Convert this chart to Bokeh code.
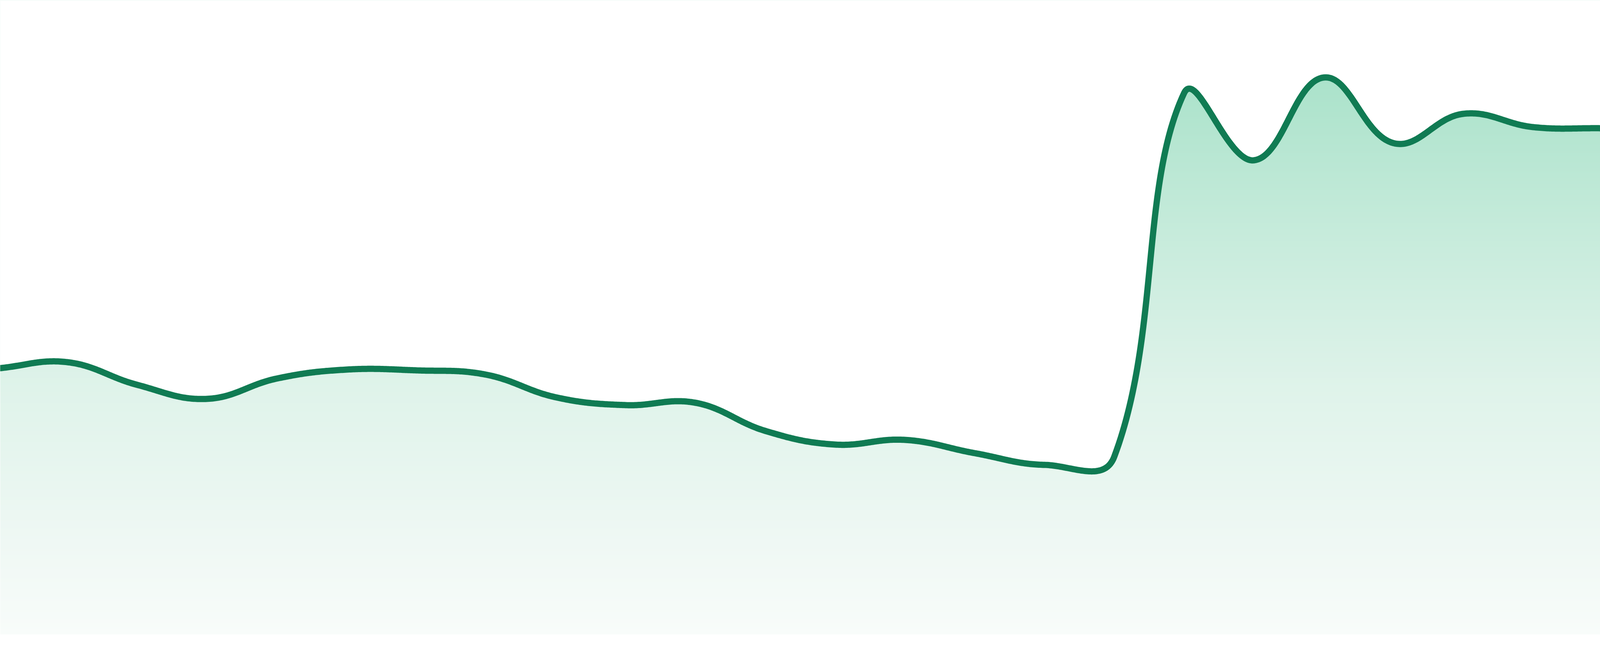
import numpy as np
from bokeh.plotting import figure
from bokeh.models import Range1d
from bokeh.embed import file_html
from bokeh.resources import INLINE

# ---------------- data ----------------
idx = list(range(24))
values = [68.1, 69.7, 63.9, 60.3, 65.5, 67.8, 67.6, 66.5, 60.7, 58.7, 59.3, 52.1,
          48.6, 49.8, 46.4, 43.4, 45.5, 138.6, 121.4, 142.6, 125.8, 133.3, 129.9, 129.6]

# ---------------- style / layout ----------------
W, H = 4000, 1664          # W is a fallback; the figure stretches to the window width
REF_W = 4784               # geometry used for the spline shape
X0, X1 = 0.0383, 22.962
Y0, Y1 = -4.0, 162.4
LINE_COLOR = "#107b53"
LINE_WIDTH = 16
TENSION = 0.4
grad_stops_v = [0.0, 23.2, 63.2, 103.2, 143.2, 162.4]
grad_stops_rgb = [(248, 252, 250), (239, 248, 244), (223, 243, 234),
                  (198, 235, 219), (170, 226, 202), (160, 223, 196)]

sx = REF_W / (X1 - X0)
sy = H / (Y1 - Y0)

# Chart.js-like spline (control points computed in pixel space)
P = np.column_stack([np.array(idx, float) * sx, np.array(values, float) * sy])
n = len(P)
cp_prev = np.zeros_like(P)
cp_next = np.zeros_like(P)
for i in range(n):
    prv = P[i - 1] if i > 0 else P[i]
    cur = P[i]
    nxt = P[i + 1] if i < n - 1 else P[i]
    d01 = np.hypot(*(cur - prv))
    d12 = np.hypot(*(nxt - cur))
    tot = d01 + d12
    s01 = d01 / tot if tot else 0.0
    s12 = d12 / tot if tot else 0.0
    fa, fb = TENSION * s01, TENSION * s12
    cp_prev[i] = cur - fa * (nxt - prv)
    cp_next[i] = cur + fb * (nxt - prv)

xs_px, ys_px = [], []
ts = np.linspace(0, 1, 60)
for i in range(n - 1):
    p0, p1, p2, p3 = P[i], cp_next[i], cp_prev[i + 1], P[i + 1]
    tt = ts if i == 0 else ts[1:]
    b = ((1 - tt) ** 3)[:, None] * p0 + (3 * (1 - tt) ** 2 * tt)[:, None] * p1 \
        + (3 * (1 - tt) * tt ** 2)[:, None] * p2 + (tt ** 3)[:, None] * p3
    xs_px.append(b[:, 0])
    ys_px.append(b[:, 1])
xs = np.concatenate(xs_px) / sx
ys = np.concatenate(ys_px) / sy

p = figure(width=W, height=H, sizing_mode="stretch_width",
           x_range=Range1d(X0, X1), y_range=Range1d(Y0, Y1),
           output_backend="svg", toolbar_location=None, min_border=0,
           x_axis_type=None, y_axis_type=None)
p.grid.visible = False
p.outline_line_color = None
p.background_fill_color = "white"
p.border_fill_color = "white"

# vertical gradient under the curve
N = 1624
vc = (np.arange(N) + 0.5) * (Y1 / N)
img = np.empty((N, 2), dtype=np.uint32)
view = img.view(dtype=np.uint8).reshape((N, 2, 4))
for ch in range(3):
    col = np.interp(vc, grad_stops_v, [c[ch] for c in grad_stops_rgb])
    view[:, :, ch] = np.round(col).astype(np.uint8)[:, None]
view[:, :, 3] = 255
p.image_rgba(image=[img], x=X0, y=0, dw=X1 - X0, dh=Y1)

# white mask above the curve
p.varea(x=xs, y1=ys, y2=Y1, fill_color="white")

# the line
p.line(xs, ys, line_color=LINE_COLOR, line_width=LINE_WIDTH,
       line_join="round", line_cap="round")

open("out.html", "w").write(file_html(p, INLINE))
